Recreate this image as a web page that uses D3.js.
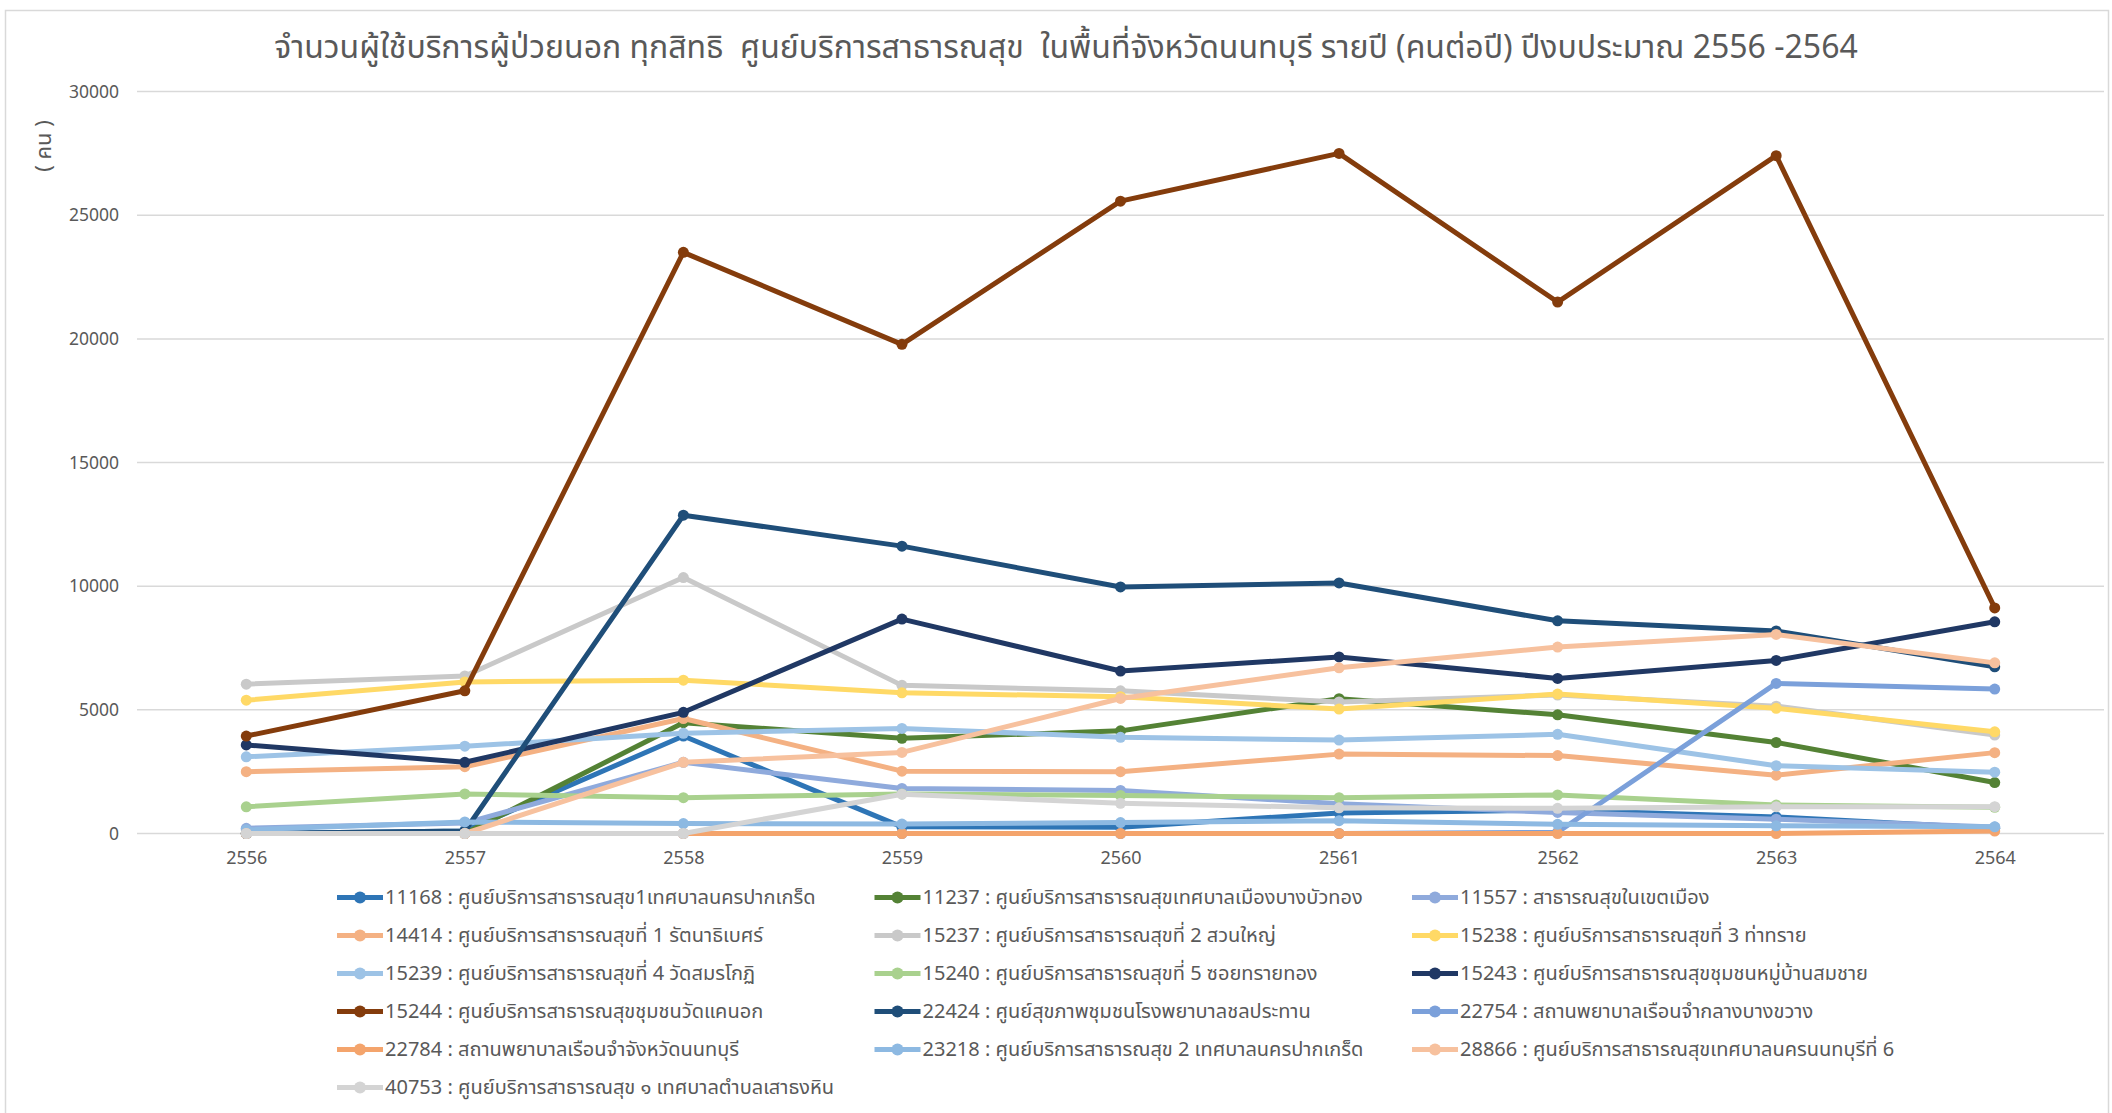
<!DOCTYPE html>
<html>
<head>
<meta charset="utf-8">
<script src="https://cdn.jsdelivr.net/npm/d3@7"></script>
<style>
  body { margin: 0; background: #fff; }
  svg text { font-family: "Noto Sans Thai", "Leelawadee UI", Tahoma, "Noto Sans", sans-serif; fill: #595959; }
</style>
</head>
<body>
<div id="chart"></div>
<script>
// years on the x axis
var years = [2556, 2557, 2558, 2559, 2560, 2561, 2562, 2563, 2564];
var yTicks = [0, 5000, 10000, 15000, 20000, 25000, 30000];

var names = [
  "11168 : ศูนย์บริการสาธารณสุข1เทศบาลนครปากเกร็ด",
  "11237 : ศูนย์บริการสาธารณสุขเทศบาลเมืองบางบัวทอง",
  "11557 : สาธารณสุขในเขตเมือง",
  "14414 : ศูนย์บริการสาธารณสุขที่ 1 รัตนาธิเบศร์",
  "15237 : ศูนย์บริการสาธารณสุขที่ 2 สวนใหญ่",
  "15238 : ศูนย์บริการสาธารณสุขที่ 3 ท่าทราย",
  "15239 : ศูนย์บริการสาธารณสุขที่ 4 วัดสมรโกฏิ",
  "15240 : ศูนย์บริการสาธารณสุขที่ 5 ซอยทรายทอง",
  "15243 : ศูนย์บริการสาธารณสุขชุมชนหมู่บ้านสมชาย",
  "15244 : ศูนย์บริการสาธารณสุขชุมชนวัดแคนอก",
  "22424 : ศูนย์สุขภาพชุมชนโรงพยาบาลชลประทาน",
  "22754 : สถานพยาบาลเรือนจำกลางบางขวาง",
  "22784 : สถานพยาบาลเรือนจำจังหวัดนนทบุรี",
  "23218 : ศูนย์บริการสาธารณสุข 2 เทศบาลนครปากเกร็ด",
  "28866 : ศูนย์บริการสาธารณสุขเทศบาลนครนนทบุรีที่ 6",
  "40753 : ศูนย์บริการสาธารณสุข ๑ เทศบาลตำบลเสาธงหิน"
];

var s11168 = [0, 100, 3940, 270, 250, 830, 950, 670, 210];
var s11237 = [0, 0, 4480, 3850, 4150, 5450, 4800, 3680, 2060];
var s11557 = [210, 420, 2880, 1820, 1740, 1200, 850, 580, 260];
var s14414 = [2500, 2700, 4650, 2520, 2500, 3210, 3150, 2360, 3270];
var s15237 = [6040, 6370, 10350, 5990, 5770, 5320, 5600, 5150, 3980];
var s15238 = [5390, 6130, 6200, 5690, 5530, 5030, 5640, 5060, 4110];
var s15239 = [3100, 3530, 4050, 4250, 3890, 3780, 4010, 2740, 2480];
var s15240 = [1080, 1600, 1450, 1600, 1540, 1450, 1560, 1150, 1060];
var s15243 = [3580, 2880, 4900, 8670, 6570, 7140, 6270, 7000, 8560];
var s15244 = [3940, 5770, 23500, 19780, 25570, 27500, 21490, 27410, 9120];
var s22424 = [0, 100, 12870, 11620, 9970, 10130, 8600, 8190, 6740];
var s22754 = [0, 0, 0, 0, 0, 0, 50, 6070, 5840];
var s22784 = [0, 0, 0, 0, 0, 0, 0, 0, 100];
var s23218 = [150, 470, 400, 380, 440, 520, 370, 310, 270];
var s28866 = [0, 0, 2880, 3280, 5460, 6700, 7540, 8050, 6900];
var s40753 = [0, 0, 0, 1590, 1220, 1040, 1017, 1084, 1084];

var values = [s11168, s11237, s11557, s14414, s15237, s15238, s15239, s15240,
  s15243, s15244, s22424, s22754, s22784, s23218, s28866, s40753];

var colors = ["#2e75b6", "#548235", "#8faadc", "#f4b183", "#c9c9c9", "#ffd966",
  "#9dc3e6", "#a9d18e", "#203864", "#843c0c", "#1f4e79", "#7ba0da",
  "#f4a46c", "#8db9e2", "#f7c19e", "#d4d4d4"];

(function () {
  var W = 2112, H = 1113;
  var svg = d3.select("#chart").append("svg").attr("width", W).attr("height", H);

  svg.append("rect")
    .attr("x", 5.5).attr("y", 10.5).attr("width", 2103).attr("height", 1110)
    .attr("fill", "#fff").attr("stroke", "#d9d9d9").attr("stroke-width", 1.5);

  var plotLeft = 137, plotRight = 2104, plotTop = 91.6, plotBottom = 833.5;

  var x = d3.scalePoint().domain(years).range([plotLeft, plotRight]).padding(0.5);
  var y = d3.scaleLinear().domain([0, 30000]).range([plotBottom, plotTop]);

  // gridlines
  svg.append("g")
    .selectAll("line")
    .data(yTicks)
    .enter()
    .append("line")
    .attr("x1", plotLeft).attr("x2", plotRight)
    .attr("y1", function (d) { return y(d); })
    .attr("y2", function (d) { return y(d); })
    .attr("stroke", "#d9d9d9")
    .attr("stroke-width", 1.5);

  // y axis labels
  var yAxis = svg.append("g")
    .attr("transform", "translate(" + (plotLeft + 2) + ",0)")
    .call(d3.axisLeft(y).tickValues(yTicks).tickSize(0).tickPadding(20).tickFormat(d3.format("d")));
  yAxis.select(".domain").remove();
  yAxis.selectAll("text").style("font-size", "17.5px").attr("fill", "#595959");

  // x axis labels
  var xAxis = svg.append("g")
    .attr("transform", "translate(0," + plotBottom + ")")
    .call(d3.axisBottom(x).tickSize(0).tickPadding(18));
  xAxis.select(".domain").remove();
  xAxis.selectAll("text").style("font-size", "18px").attr("fill", "#595959");

  var line = d3.line()
    .x(function (d, i) { return x(years[i]); })
    .y(function (d) { return y(d); });

  var series = svg.append("g")
    .selectAll("g")
    .data(values)
    .enter()
    .append("g");

  series.append("path")
    .attr("d", function (d) { return line(d); })
    .attr("fill", "none")
    .attr("stroke", function (d, i) { return colors[i]; })
    .attr("stroke-width", 5)
    .attr("stroke-linejoin", "round");

  series.selectAll("circle")
    .data(function (d, i) { return d.map(function (v, j) { return { v: v, j: j, c: colors[i] }; }); })
    .enter()
    .append("circle")
    .attr("cx", function (d) { return x(years[d.j]); })
    .attr("cy", function (d) { return y(d.v); })
    .attr("r", 5.5)
    .attr("fill", function (d) { return d.c; });

  // title
  svg.append("text")
    .attr("x", 1066).attr("y", 58)
    .attr("text-anchor", "middle")
    .style("font-size", "32px")
    .style("white-space", "pre")
    .text("จำนวนผู้ใช้บริการผู้ป่วยนอก ทุกสิทธิ  ศูนย์บริการสาธารณสุข  ในพื้นที่จังหวัดนนทบุรี รายปี (คนต่อปี) ปีงบประมาณ 2556 -2564");

  // y axis title
  svg.append("text")
    .attr("transform", "translate(44,146) rotate(-90)")
    .attr("text-anchor", "middle")
    .attr("dominant-baseline", "central")
    .style("font-size", "22px")
    .style("white-space", "pre")
    .text("( คน )");

  // legend
  var legend = svg.append("g")
    .selectAll("g")
    .data(names)
    .enter()
    .append("g")
    .attr("transform", function (d, i) {
      return "translate(" + (337 + (i % 3) * 537.5) + "," + (897.5 + Math.floor(i / 3) * 38) + ")";
    });

  legend.append("line")
    .attr("x1", 0).attr("x2", 46)
    .attr("stroke", function (d, i) { return colors[i]; })
    .attr("stroke-width", 5);

  legend.append("circle")
    .attr("cx", 23).attr("r", 6)
    .attr("fill", function (d, i) { return colors[i]; });

  legend.append("text")
    .attr("x", 48)
    .attr("dominant-baseline", "central")
    .style("font-size", "20px")
    .text(function (d) { return d; });
})();
</script>
</body>
</html>
